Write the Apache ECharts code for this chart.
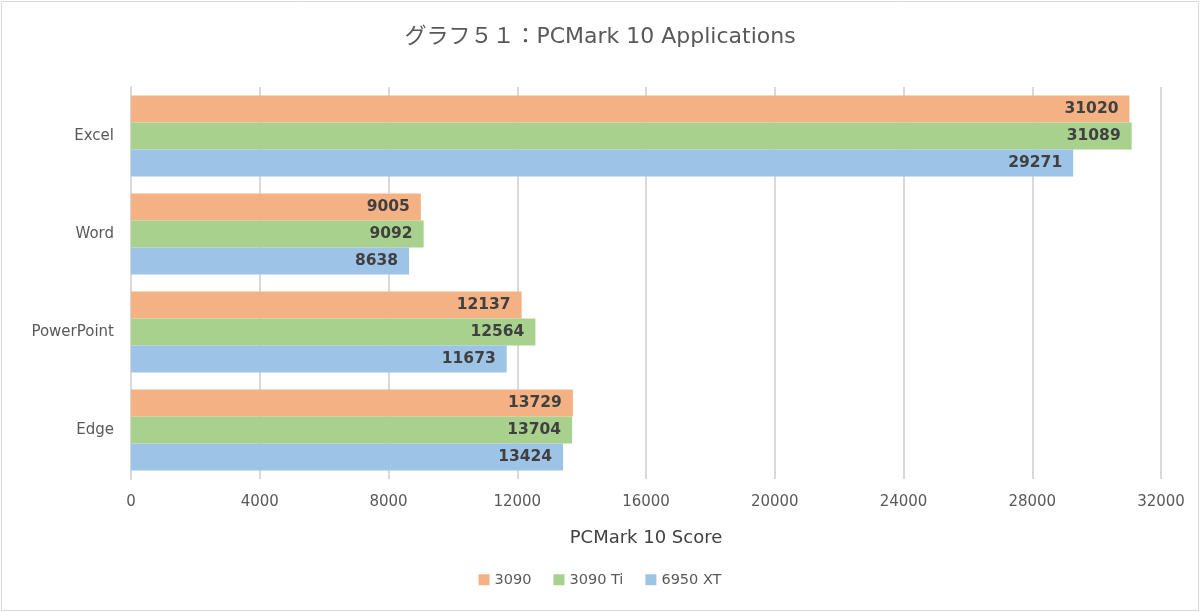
<!DOCTYPE html>
<html><head><meta charset="utf-8">
<script src="https://cdn.jsdelivr.net/npm/echarts@6/dist/echarts.min.js"></script>
<style>html,body{margin:0;padding:0;background:#fff}#c{width:1200px;height:612px}</style>
</head><body><div id="c"></div>
<script>
const categories = ['Excel', 'Word', 'PowerPoint', 'Edge'];
const seriesNames = ['3090', '3090 Ti', '6950 XT'];
const s3090 = [31020, 9005, 12137, 13729];
const s3090Ti = [31089, 9092, 12564, 13704];
const s6950XT = [29271, 8638, 11673, 13424];
const colors = ['#F4B183', '#A9D18E', '#9DC3E6'];
const xTicks = [0, 4000, 8000, 12000, 16000, 20000, 24000, 28000, 32000];

const font = "'DejaVu Sans', 'Noto Sans CJK JP', sans-serif";
const chart = echarts.init(document.getElementById('c'));
const data = [s3090, s3090Ti, s6950XT];
chart.setOption({
  animation: false,
  color: colors,
  graphic: [{type: 'rect', shape: {x: 1.5, y: 1.5, width: 1197, height: 609}, style: {fill: 'none', stroke: '#d9d9d9', lineWidth: 1}, silent: true}],
  title: {text: 'グラフ５１：PCMark 10 Applications', left: 'center', top: 21,
    textStyle: {fontFamily: font, fontSize: 22, fontWeight: 'normal', color: '#595959'}},
  legend: {bottom: 20, left: 'center', itemWidth: 11, itemHeight: 11, itemGap: 22, icon: 'rect',
    textStyle: {fontFamily: font, fontSize: 14.5, color: '#595959'}, data: seriesNames},
  grid: {left: 131, right: 39, top: 87, bottom: 133, containLabel: false},
  xAxis: {type: 'value', min: xTicks[0], max: xTicks[xTicks.length - 1], interval: 4000,
    name: 'PCMark 10 Score', nameLocation: 'middle', nameGap: 50,
    nameTextStyle: {fontFamily: font, fontSize: 18, color: '#404040'},
    axisLine: {show: false}, axisTick: {show: false},
    axisLabel: {fontFamily: font, fontSize: 15, color: '#595959', margin: 16, formatter: v => String(v)},
    splitLine: {lineStyle: {color: '#d9d9d9', width: 2}}},
  yAxis: {type: 'category', data: categories, inverse: true,
    axisLine: {show: true, lineStyle: {color: '#d9d9d9', width: 2}}, axisTick: {show: false},
    axisLabel: {fontFamily: font, fontSize: 15, color: '#595959', margin: 17}},
  series: seriesNames.map((n, i) => ({
    name: n, type: 'bar', data: data[i], barWidth: 27, barGap: '0%',
    label: {show: true, position: 'insideRight', distance: 11, fontFamily: font,
      fontSize: 15.5, fontWeight: 'bold', color: '#404040'}
  }))
});
</script></body></html>
